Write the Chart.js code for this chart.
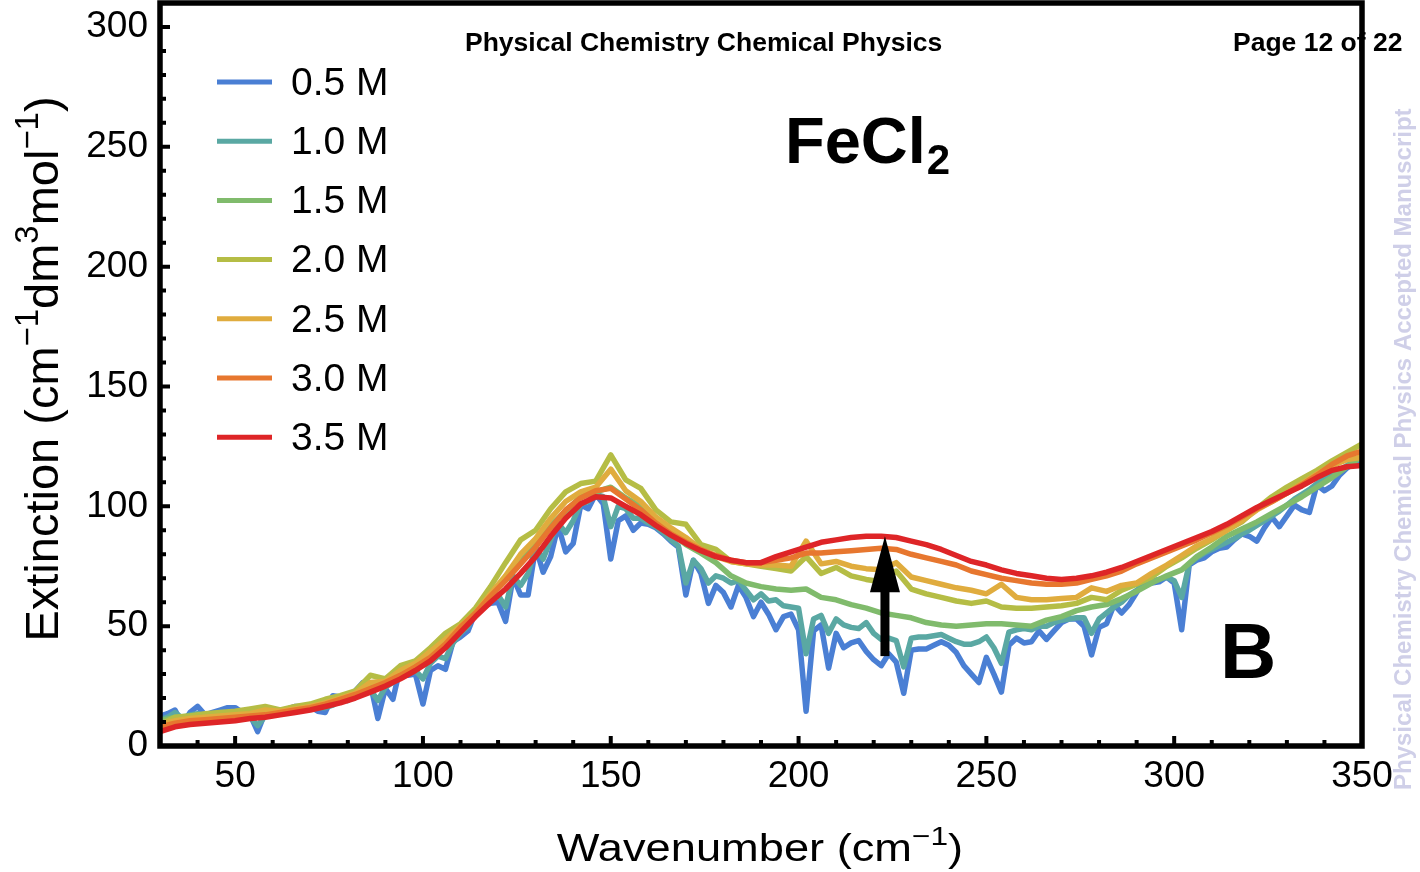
<!DOCTYPE html>
<html>
<head>
<meta charset="utf-8">
<title>FeCl2 extinction spectra</title>
<script src="https://cdn.jsdelivr.net/npm/chart.js@4.4.1/dist/chart.umd.min.js"></script>
<style>
  html, body { margin: 0; padding: 0; background: #fff; }
  #wrap { width: 1420px; height: 872px; }
</style>
</head>
<body>
<div id="wrap"><canvas id="chartId" width="1420" height="872"></canvas></div>
<script>
const FONT = '"Liberation Sans", Arial, Helvetica, sans-serif';

// Sampling grids (cm^-1)
const wavenumberFine = Array.from({ length: 161 }, (_, i) => 30 + 2 * i);
const wavenumberCoarse = Array.from({ length: 81 }, (_, i) => 30 + 4 * i);

const xTicks = [50, 100, 150, 200, 250, 300, 350];
const yTicks = [0, 50, 100, 150, 200, 250, 300];

const concentrations = ['0.5 M', '1.0 M', '1.5 M', '2.0 M', '2.5 M', '3.0 M', '3.5 M'];

// 0.5 M, fine grid (30..350 step 2)
const ext05 = [
    12.5, 13.5, 15, 9, 14, 16.5, 13, 14, 15, 16,
    16, 14, 13, 6, 14, 15, 14.5, 15.5, 16.5, 16.5,
    16.5, 14.5, 14, 21, 20.5, 19, 23, 26.5, 26, 11.5,
    24, 19.5, 33, 29.5, 30, 17.5, 31.5, 33.5, 32, 43.5,
    45.5, 48, 56, 58, 59.5, 60, 52, 70.5, 63, 63,
    83, 72.5, 79, 92, 81, 84.5, 100.5, 99, 105, 101,
    78, 94, 96, 90, 93, 92.5, 91, 88.5, 85.5, 83,
    63, 77.5, 72, 59.5, 67, 64, 58, 67, 62, 54,
    60, 55, 48.5, 54, 55, 48.5, 14.5, 48, 50.5, 32.5,
    47, 41, 43, 44, 39.5, 36, 33.5, 38.5, 35, 22,
    40, 40.5, 40.5, 42, 43.5, 42, 39, 33.5, 30, 26.5,
    37, 30, 22.5, 42, 45, 43, 43.5, 48, 44.5, 48,
    51.5, 53, 53, 50, 38, 49.5, 51, 59, 55.5, 59,
    64, 69.5, 68, 68.5, 70.5, 68, 48.5, 75.5, 77.5, 78.5,
    81, 82.5, 83, 86, 88.5, 87.5, 85.5, 91, 95.5, 91.5,
    96, 100.5, 98.5, 97.5, 109, 106.5, 108.5, 113, 116, 118,
    119
];

// 1.0 M, fine grid
const ext10 = [
    11, 12, 14, 11.5, 13, 13.5, 12.5, 13.5, 14, 14,
    14, 13.5, 12, 8.5, 12.5, 13.5, 14, 14.5, 15, 15,
    15.5, 16, 16, 17, 19, 19, 21, 22.5, 23.5, 19,
    24.5, 26.5, 28.5, 30, 31.5, 28, 34.5, 37.5, 36.5, 43,
    47, 50, 55.5, 58.5, 61, 63, 58, 71, 67, 72,
    83, 78, 86, 93, 89, 94, 101, 102, 105, 104,
    91.5, 100, 99, 95, 95, 93, 91.5, 89, 86, 83.5,
    68, 77.5, 74, 68, 71, 70, 68, 69, 65, 61,
    63.5, 60.5, 61, 58.5, 58, 57.5, 38.5, 53, 54.5, 47,
    53, 50.5, 49.5, 49, 51.5, 47, 44.5, 45, 44, 33,
    45, 45.5, 45.5, 46, 46.5, 45, 43.5, 42.5, 42.5, 43.5,
    45.5, 41, 34.5, 47.5, 48.5, 49, 48.5, 50, 50, 51.5,
    52.5, 53, 53.5, 53.5, 47, 53, 55.5, 58, 60, 63,
    65, 67, 69, 69.5, 70.5, 69, 62, 76, 78.5, 80.5,
    82, 83.5, 85, 86.5, 88.5, 90, 92, 94, 96, 98,
    100.5, 103, 105, 107, 109.5, 111.5, 113, 115, 117, 119,
    120.5
];

// 1.5 M .. 3.5 M, coarse grid (30..350 step 4)
const ext15 = [
    10.5, 12, 12.5, 13, 13, 13, 13.5, 14.5, 14.5, 15.5,
    16.5, 18, 20, 22, 25, 27, 31, 34.5, 39, 44,
    49.5, 55.5, 62.5, 70, 78, 85, 92, 98, 104, 106,
    108, 103.5, 100, 94, 89, 84, 80.5, 76.5, 71, 68,
    66.5, 65.5, 65, 65.5, 62, 61, 59, 57.5, 55.5, 54.5,
    53.5, 51.5, 50.5, 50, 50.5, 51, 51, 50.5, 50, 52.5,
    54, 56.5, 58, 59, 61.5, 64.5, 68, 71, 73.5, 79,
    83, 87.5, 90.5, 93.5, 97, 100.5, 104, 108, 112, 116.5,
    121
];

const ext20 = [
    9, 12, 12.5, 13.5, 14, 14.5, 15.5, 16.5, 15, 16.5,
    17.5, 19.5, 21, 23, 29.5, 28, 33.5, 35.5, 41, 47,
    51, 57.5, 66.5, 76.5, 86, 90, 99, 106, 109.5, 110.5,
    121.5, 111, 107.5, 98.5, 93.5, 92.5, 84, 82, 77, 76,
    75, 74, 73, 79, 72, 74.5, 71, 69.5, 68.5, 73,
    65.5, 63.5, 62, 60.5, 59.5, 60.5, 58, 57.5, 57.5, 58,
    58.5, 59.5, 62, 61, 65, 67.5, 70.5, 75, 78.5, 82.5,
    86, 90, 93.5, 99, 104, 108, 111.5, 115, 119, 122.5,
    126
];

const ext25 = [
    9, 10.5, 11.5, 12, 12.5, 13, 13.5, 15, 14.5, 15.5,
    16.5, 18, 20, 22, 26.5, 27, 31.5, 34.5, 39.5, 44.5,
    50, 55.5, 63.5, 71, 80, 86.5, 95, 102, 106, 108,
    115.5, 106.5, 102, 95.5, 91, 87, 82, 79, 77, 76,
    75.5, 75.5, 75, 85.5, 76, 77, 75, 74, 73.5, 76.5,
    70.5, 69, 67.5, 66, 65, 63.5, 67.5, 62, 61, 61,
    61.5, 62, 66, 64.5, 67, 68, 72, 75.5, 79.5, 83.5,
    86.5, 90, 94, 98.5, 102, 105.5, 109.5, 113.5, 117, 119.5,
    120.5
];

const ext30 = [
    8, 9.5, 10.5, 11, 11.5, 12, 12.5, 13, 14, 15,
    16, 17.5, 19.5, 21.5, 24, 26.5, 29.5, 33, 37, 42.5,
    49.5, 55.5, 62.5, 69, 76, 83, 91, 98.5, 103.5, 106.5,
    107.5, 103, 98.5, 93, 88.5, 85, 82, 79.5, 77.5, 76.5,
    76.5, 77.5, 78.5, 80.5, 80.5, 81, 81.5, 82, 82.5, 82,
    80, 78.5, 77, 75.5, 73, 71.5, 70, 69, 68, 67.5,
    67.5, 68, 69.5, 71, 73, 76, 78.5, 81, 83.5, 86,
    89, 92, 95.5, 99, 102, 105.5, 109, 113, 117.5, 121,
    123
];

const ext35 = [
    6, 8, 9, 9.5, 10, 10.5, 11.5, 12, 13, 14,
    15, 16.5, 18, 20, 22.5, 25, 28, 31.5, 35.5, 41,
    47.5, 54, 60, 65.5, 72, 79, 87.5, 95, 101, 104,
    103.5, 100, 96.5, 92, 88, 84.5, 81.5, 79, 77.5, 76.5,
    76.5, 79, 81, 83, 85, 86, 87, 87.5, 87.5, 87,
    85.5, 84, 82, 79.5, 77, 75.5, 73.5, 72, 71, 70,
    69.5, 70, 71, 72.5, 74.5, 77, 79.5, 82, 84.5, 87,
    89.5, 92.5, 96, 99.5, 102.5, 105.5, 108.5, 112, 115, 116.5,
    117
];

// Arrow marking the growth of the ~220 cm^-1 band
const arrowX = 223;
const arrowFrom = 37.5;
const arrowTo = 87.5;

const seriesValues = [ext05, ext10, ext15, ext20, ext25, ext30, ext35];
const seriesGrid = [wavenumberFine, wavenumberFine, wavenumberCoarse, wavenumberCoarse,
    wavenumberCoarse, wavenumberCoarse, wavenumberCoarse];
const lineColors = ['#4a7fd4', '#5aa8a3', '#80bb6c', '#b5bd45', '#e0ac3e', '#e7772f', '#de2527'];

const datasets = concentrations.map((label, i) => ({
    label,
    data: seriesGrid[i].map((x, j) => ({ x, y: seriesValues[i][j] })),
    borderColor: lineColors[i],
    backgroundColor: lineColors[i],
    borderWidth: 5.5,
    pointRadius: 0,
    tension: 0,
    borderJoinStyle: 'round',
    borderCapStyle: 'round',
    // higher concentrations on top
    order: concentrations.length - 1 - i
}));

// Text with superscript pieces, centred on (x, y)
function drawRich(ctx, parts, x, y, size) {
    let total = 0;
    const items = parts.map(([text, sup]) => {
        const s = sup ? size * 0.7 : size;
        ctx.font = `${s}px ${FONT}`;
        const w = ctx.measureText(text).width;
        total += w;
        return { text, sup, s, w };
    });
    let cx = x - total / 2;
    ctx.textAlign = 'left';
    ctx.textBaseline = 'alphabetic';
    items.forEach(it => {
        ctx.font = `${it.s}px ${FONT}`;
        ctx.fillText(it.text, cx, it.sup ? y - size * 0.42 : y);
        cx += it.w;
    });
}

const arrowPlugin = {
    id: 'arrow',
    afterDatasetsDraw(chart) {
        const { ctx, scales: { x, y } } = chart;
        const px = x.getPixelForValue(arrowX);
        const yb = y.getPixelForValue(arrowFrom);
        const yt = y.getPixelForValue(arrowTo);
        ctx.save();
        ctx.fillStyle = '#000';
        ctx.fillRect(px - 4.5, yt + 50, 9, yb - yt - 50);
        ctx.beginPath();
        ctx.moveTo(px, yt);
        ctx.lineTo(px + 15, yt + 56);
        ctx.lineTo(px - 15, yt + 56);
        ctx.closePath();
        ctx.fill();
        ctx.restore();
    }
};

const decorPlugin = {
    id: 'decor',
    afterDraw(chart) {
        const { ctx, chartArea: area, scales: { x, y } } = chart;
        ctx.save();
        ctx.fillStyle = '#000';

        // running header
        ctx.font = `bold 26.5px ${FONT}`;
        ctx.textAlign = 'left';
        ctx.textBaseline = 'alphabetic';
        ctx.fillText('Physical Chemistry Chemical Physics', 465, 51);
        ctx.fillText('Page 12 of 22', 1233, 51);

        // side watermark
        ctx.save();
        ctx.translate(1411, 790);
        ctx.rotate(-Math.PI / 2);
        ctx.fillStyle = '#cfcfe8';
        ctx.font = `bold 24px ${FONT}`;
        ctx.fillText('Physical Chemistry Chemical Physics Accepted Manuscript', 0, 0);
        ctx.restore();

        // legend
        chart.data.datasets.forEach((ds, i) => {
            const ly = 82 + 59.2 * i;
            ctx.strokeStyle = ds.borderColor;
            ctx.lineWidth = 5;
            ctx.beginPath();
            ctx.moveTo(217, ly);
            ctx.lineTo(272, ly);
            ctx.stroke();
            ctx.fillStyle = '#000';
            ctx.font = `39px ${FONT}`;
            ctx.textBaseline = 'middle';
            ctx.fillText(ds.label, 291, ly + 2);
        });

        // compound and panel labels
        ctx.textBaseline = 'alphabetic';
        ctx.font = `bold 65px ${FONT}`;
        ctx.fillText('FeCl', 785, 163);
        const fw = ctx.measureText('FeCl').width;
        ctx.font = `bold 42px ${FONT}`;
        ctx.fillText('2', 785 + fw + 1, 174);
        ctx.font = `bold 78px ${FONT}`;
        ctx.fillText('B', 1220, 678);

        // axis titles
        ctx.save();
        ctx.translate(760, 861);
        ctx.scale(1.19, 1);
        drawRich(ctx, [['Wavenumber (cm', false], ['\u22121', true], [')', false]], 0, 0, 38);
        ctx.restore();

        ctx.save();
        ctx.translate(58, 369);
        ctx.rotate(-Math.PI / 2);
        drawRich(ctx, [['Extinction (cm', false], ['\u22121', true], ['dm', false], ['3', true],
            ['mol', false], ['\u22121', true], [')', false]], 0, 0, 47);
        ctx.restore();

        // frame with inward ticks on the bottom and left
        ctx.strokeStyle = '#000';
        ctx.lineWidth = 4;
        ctx.beginPath();
        for (let v = 40; v < 350; v += 10) {
            const px = x.getPixelForValue(v);
            const len = v % 50 === 0 ? 10 : 6;
            ctx.moveTo(px, area.bottom);
            ctx.lineTo(px, area.bottom - len);
        }
        for (let v = 10; v <= 300; v += 10) {
            const py = y.getPixelForValue(v);
            const len = v % 50 === 0 ? 10 : 6;
            ctx.moveTo(area.left, py);
            ctx.lineTo(area.left + len, py);
        }
        ctx.stroke();
        ctx.lineWidth = 5.5;
        ctx.strokeRect(area.left, area.top, area.right - area.left, area.bottom - area.top);
        ctx.restore();
    }
};

const tickFont = { family: FONT, size: 37 };

new Chart(document.getElementById('chartId').getContext('2d'), {
    type: 'line',
    data: { datasets },
    options: {
        responsive: false,
        animation: false,
        layout: { padding: { top: 3, right: 58, left: 0, bottom: 0 } },
        plugins: { legend: { display: false }, tooltip: { enabled: false } },
        scales: {
            x: {
                type: 'linear',
                min: 30,
                max: 350,
                grid: { display: false, drawTicks: false },
                border: { display: false },
                ticks: { font: tickFont, color: '#000', padding: 9, maxRotation: 0, autoSkip: false },
                afterBuildTicks(scale) { scale.ticks = xTicks.map(value => ({ value })); },
                afterFit(scale) {
                    scale.height = 126;
                    scale.paddingLeft = 0;
                    scale.paddingRight = 0;
                }
            },
            y: {
                min: 0,
                max: 310,
                grid: { display: false, drawTicks: false },
                border: { display: false },
                ticks: { font: tickFont, color: '#000', padding: 12, autoSkip: false },
                afterBuildTicks(scale) { scale.ticks = yTicks.map(value => ({ value })); },
                afterFit(scale) {
                    scale.width = 160;
                    scale.paddingTop = 0;
                    scale.paddingBottom = 0;
                }
            }
        }
    },
    plugins: [arrowPlugin, decorPlugin]
});
</script>
</body>
</html>
